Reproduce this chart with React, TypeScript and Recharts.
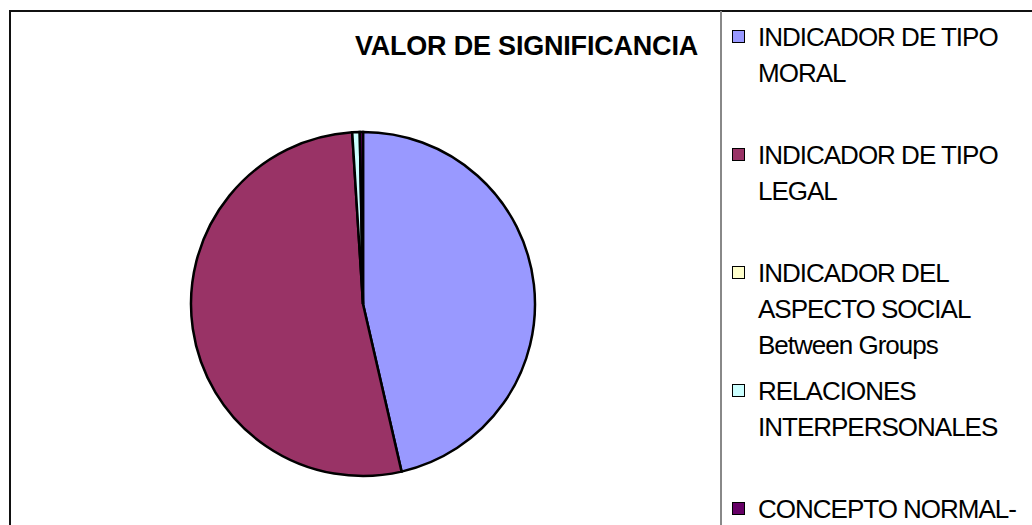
import { PieChart, Pie, Cell } from "recharts"

const categories = [
  "INDICADOR DE TIPO MORAL",
  "INDICADOR DE TIPO LEGAL",
  "INDICADOR DEL ASPECTO SOCIAL Between Groups",
  "RELACIONES INTERPERSONALES",
  "CONCEPTO NORMAL-",
]

// legend lines as wrapped in the original
const legendLines = [
  ["INDICADOR DE TIPO", "MORAL"],
  ["INDICADOR DE TIPO", "LEGAL"],
  ["INDICADOR DEL", "ASPECTO SOCIAL", "Between Groups"],
  ["RELACIONES", "INTERPERSONALES"],
  ["CONCEPTO NORMAL-"],
]

const values = [46.4, 52.6, 0, 0.7, 0.3]

const colors = ["#9999FF", "#993366", "#FFFFCC", "#CCFFFF", "#660066"]

const title = "VALOR DE SIGNIFICANCIA"

const data = categories.map((name, i) => ({ name, value: values[i] }))

const font = '"Liberation Sans", Arial, sans-serif'

export default function App() {
  return (
    <div
      style={{
        position: "absolute",
        left: 0,
        top: 0,
        width: 1032,
        height: 525,
        overflow: "hidden",
        background: "#fff",
        fontFamily: font,
      }}
    >
      {/* outer chart frame */}
      <div
        style={{
          position: "absolute",
          left: 9,
          top: 10,
          width: 1100,
          height: 600,
          borderLeft: "2px solid #111",
          borderTop: "2px solid #111",
        }}
      />
      {/* legend box edge */}
      <div
        style={{
          position: "absolute",
          left: 720,
          top: 11,
          width: 2,
          height: 600,
          background: "#888",
        }}
      />

      <div style={{ position: "absolute", left: 0, top: 0 }}>
        <PieChart width={1032} height={525}>
          <Pie
            data={data}
            dataKey="value"
            nameKey="name"
            cx={358}
            cy={299}
            outerRadius={172}
            startAngle={90}
            endAngle={-270}
            stroke="#000"
            strokeWidth={2.5}
            isAnimationActive={false}
          >
            {data.map((d, i) => (
              <Cell key={d.name} fill={colors[i]} />
            ))}
          </Pie>
        </PieChart>
      </div>

      <div
        style={{
          position: "absolute",
          left: 300,
          width: 398,
          top: 31,
          textAlign: "right",
          fontSize: 27,
          letterSpacing: -0.2,
          fontWeight: "bold",
          lineHeight: "30px",
          color: "#000",
        }}
      >
        {title}
      </div>

      {legendLines.map((lines, i) => (
        <div
          key={categories[i]}
          style={{ position: "absolute", left: 732, top: 19 + i * 118 }}
        >
          <div
            style={{
              position: "absolute",
              left: 0,
              top: 11,
              width: 11,
              height: 11,
              border: "1.5px solid #000",
              background: colors[i],
            }}
          />
          <div
            style={{
              position: "absolute",
              left: 26,
              top: 0,
              whiteSpace: "nowrap",
              fontSize: 26,
              letterSpacing: -1,
              lineHeight: "36px",
              color: "#000",
            }}
          >
            {lines.map((l) => (
              <div key={l}>{l}</div>
            ))}
          </div>
        </div>
      ))}
    </div>
  )
}
